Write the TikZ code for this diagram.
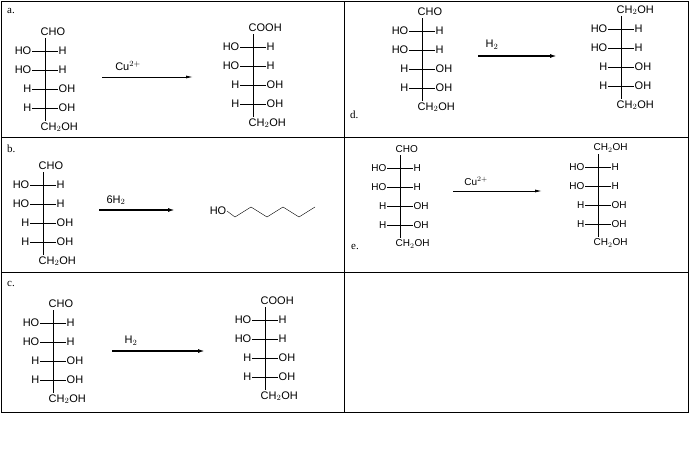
\documentclass[tikz,border=0pt]{standalone}
\usepackage{fontspec}
\setmainfont{Liberation Sans}
\newfontfamily\labelfont{Liberation Serif}
\usetikzlibrary{arrows.meta}
\tikzset{
  grp/.style   = {inner sep=0.5pt, font=\fontsize{11}{11}\selectfont},
  small/.style = {grp, font=\fontsize{10}{10}\selectfont},
  tag/.style   = {inner sep=0pt, anchor=west, font=\labelfont\fontsize{11}{11}\selectfont},
  react/.style = {line width=1.5pt, -{Latex[length=7pt,width=4pt]}},
  thinreact/.style = {line width=0.8pt, -{Latex[length=7pt,width=3pt]}},
  cell/.style  = {draw, line width=0.8pt}
}
% Fischer projection: name, x, y of top group, top group, bottom group, style
\newcommand\fischer[6]{%
  \node[#6, anchor=west] (#1t) at (#2-5,#3) {#4};
  \foreach \l/\r [count=\i] in {HO/H,HO/H,H/OH,H/OH} {
    \node[#6, anchor=east] (#1l\i) at (#2-13,#3+19*\i) {\l};
    \node[#6, anchor=west] (#1r\i) at (#2+13,#3+19*\i) {\r};
    \draw (#1l\i.east) -- (#1r\i.west);
  }
  \node[#6, anchor=west] (#1b) at (#2-5,#3+95) {#5};
  \draw (#2,#3+6) -- (#2,#3+89);
}
\begin{document}
\begin{tikzpicture}[x=1pt, y=-1pt]
\useasboundingbox (0,0) rectangle (689,453);
% table
\draw[cell] (1,1) rectangle (688,412);
\draw[cell] (344,1) -- (344,412);
\draw[cell] (1,137) -- (688,137);
\draw[cell] (1,272) -- (688,272);

% a.
\node[tag] (ta) at (7,11) {a.};
\fischer{aa}{45}{32}{CHO}{CH$_2$OH}{grp}
\fischer{ab}{253}{28}{COOH}{CH$_2$OH}{grp}
\coordinate (as) at (102,77);
\coordinate (ae) at (193,77);
\draw[thinreact] (as) -- (ae);
\node[grp] (ca) at (128,66) {Cu$^{2+}$};

% b.
\node[tag] (tb) at (7,149) {b.};
\fischer{ba}{43}{166}{CHO}{CH$_2$OH}{grp}
\coordinate (bs) at (99,210);
\coordinate (be) at (175,210);
\draw[react] (bs) -- (be);
\node[grp] (cb) at (116,200) {6H$_2$};
\node[grp, anchor=east] (hex) at (227,211) {HO};
\draw (hex.east) -- ++(8,6) -- ++(16,-10) -- ++(16,10) -- ++(16,-10) -- ++(16,10) -- ++(16,-10);

% c.
\node[tag] (tc) at (7,284) {c.};
\fischer{ca}{53}{304}{CHO}{CH$_2$OH}{grp}
\fischer{cb}{265}{301}{COOH}{CH$_2$OH}{grp}
\coordinate (cs) at (112,351);
\coordinate (ce) at (205,351);
\draw[react] (cs) -- (ce);
\node[grp] (cc) at (131,341) {H$_2$};

% d.
\node[tag] (td) at (350,115) {d.};
\fischer{da}{422}{12}{CHO}{CH$_2$OH}{grp}
\fischer{db}{621}{10}{CH$_2$OH}{CH$_2$OH}{grp}
\coordinate (ds) at (478,56);
\coordinate (de) at (557,56);
\draw[react] (ds) -- (de);
\node[grp] (cd) at (492,45) {H$_2$};

% e.
\node[tag] (te) at (351,247) {e.};
\fischer{ea}{400}{149}{CHO}{CH$_2$OH}{small}
\fischer{eb}{598}{148}{CH$_2$OH}{CH$_2$OH}{small}
\coordinate (es) at (453,191);
\coordinate (ee) at (542,191);
\draw[thinreact] (es) -- (ee);
\node[small] (ce) at (476,181) {Cu$^{2+}$};
\end{tikzpicture}
\end{document}
